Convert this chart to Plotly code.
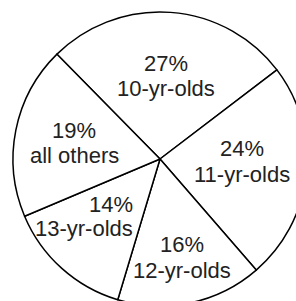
import plotly.graph_objects as go

labels = ["10-yr-olds", "11-yr-olds", "12-yr-olds", "13-yr-olds", "all others"]
values = [27, 24, 16, 14, 19]

# layout constants (pixels in the figure)
W, H = 320, 320
CX, CY, R = 160, 159, 147
# (x, y of percent line, y of label line, anchor)
label_pos = [(166, 63, 89, "center"), (242, 148, 174, "center"), (182, 244, 270, "center"),
             (135, 204, 228, "right"), (74, 130, 155, "center")]

fig = go.Figure(go.Pie(
    labels=labels, values=values, sort=False, direction="clockwise",
    rotation=-44.5, textinfo="none", hoverinfo="label+percent",
    marker=dict(colors=["white"] * len(values), line=dict(color="black", width=1.5)),
    domain=dict(x=[(CX - R) / W, (CX + R) / W], y=[1 - (CY + R) / H, 1 - (CY - R) / H]),
    showlegend=False,
))

font = dict(family="Liberation Sans, Arial, sans-serif", size=22, color="#222")
for lab, val, (x, y1, y2, al) in zip(labels, values, label_pos):
    xa = "right" if al == "right" else "center"
    for txt, y in ((f"{val}%", y1), (lab, y2)):
        fig.add_annotation(
            x=x / W, y=1 - y / H, xref="paper", yref="paper",
            text=txt, showarrow=False, xanchor=xa, yanchor="middle", font=font,
        )

fig.update_layout(width=W, height=H, margin=dict(l=0, r=0, t=0, b=0),
                  paper_bgcolor="white", plot_bgcolor="white")

fig.write_html("out.html", config={"displayModeBar": False},
               post_script="document.body.style.margin='0';document.body.style.overflow='hidden';")
